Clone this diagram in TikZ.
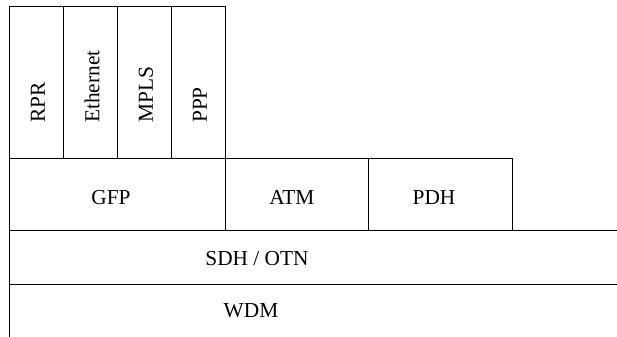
\documentclass[tikz,border=0pt]{standalone}
\usepackage{fontspec}
\setmainfont{Liberation Serif}
\usetikzlibrary{positioning}

\begin{document}
\begin{tikzpicture}[x=0.75pt, y=-0.75pt, font=\fontsize{16}{19}\selectfont,
		box/.style={draw, line width=0.75pt, inner sep=0pt, outer sep=0pt},
		column/.style={box, minimum width=40.5pt, minimum height=114pt},
		vlabel/.style={rotate=90, anchor=west, inner sep=0pt},
		hlabel/.style={inner sep=0pt}]
				\useasboundingbox (0,0) rectangle (617,336);
				\clip (0,0) rectangle (617,336);
				% upper protocols
				\node (rpr) [column, anchor=north west] at (9,6) {};
				\node (ethernet) [column, right=0pt of rpr] {};
				\node (mpls) [column, right=0pt of ethernet] {};
				\node (ppp) [column, right=0pt of mpls] {};
				\node [vlabel] at ([xshift=1.5pt, yshift=26.25pt]rpr.south) {RPR};
				\node [vlabel] at ([xshift=1.5pt, yshift=26.25pt]ethernet.south) {Ethernet};
				\node [vlabel] at ([xshift=1.5pt, yshift=26.25pt]mpls.south) {MPLS};
				\node [vlabel] at ([xshift=1.5pt, yshift=26.25pt]ppp.south) {PPP};
				% adaptation row
				\node (gfp) [box, minimum width=162pt, minimum height=54pt, below=0pt of rpr.south west, anchor=north west] {};
				\node (atm) [box, minimum width=107.25pt, minimum height=54pt, right=0pt of gfp] {};
				\node (pdh) [box, minimum width=108pt, minimum height=54pt, right=0pt of atm] {};
				\node [hlabel] at ([xshift=-4.5pt, yshift=-2.6pt]gfp.center) {GFP};
				\node [hlabel] at ([xshift=-3.5pt, yshift=-2.6pt]atm.center) {ATM};
				\node [hlabel] at ([xshift=-4.5pt, yshift=-2.6pt]pdh.center) {PDH};
				% transport
				\node (sdh) [box, minimum width=480pt, minimum height=40.5pt, below=0pt of gfp.south west, anchor=north west] {};
				\node (wdm) [box, minimum width=480pt, minimum height=45pt, below=0pt of sdh.south west, anchor=north west] {};
				\node (sdhtext) at (257,259) {SDH / OTN};
				\node (wdmtext) at (251,311) {WDM};
			\end{tikzpicture}
\end{document}
